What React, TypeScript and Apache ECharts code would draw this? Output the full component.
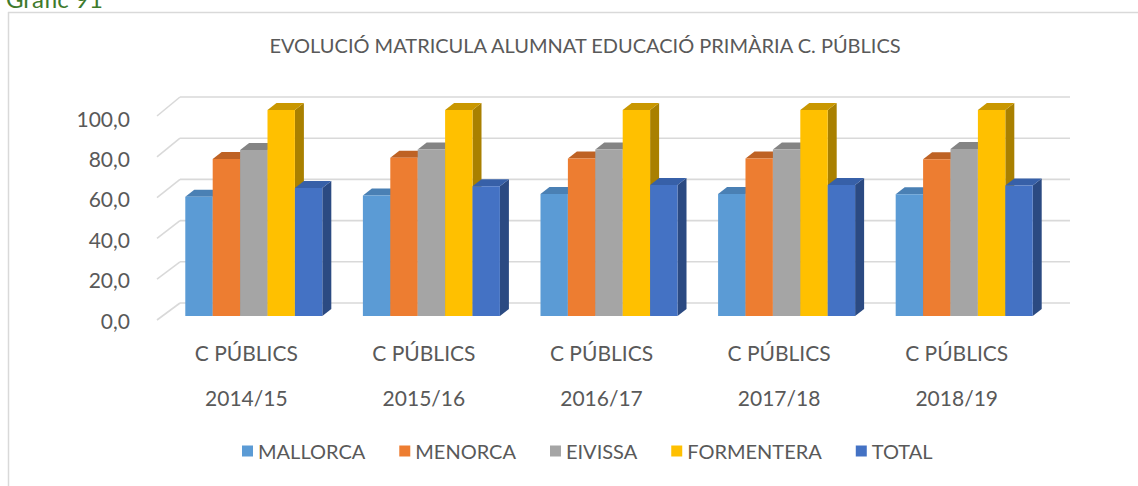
import React, { useEffect, useRef } from "react";
import * as echarts from "echarts";

const categoryPrefix = "C PÚBLICS";
const years = ["2014/15", "2015/16", "2016/17", "2017/18", "2018/19"];
const seriesNames = ["MALLORCA", "MENORCA", "EIVISSA", "FORMENTERA", "TOTAL"];
const mallorca = [57.9, 58.5, 59.2, 59.2, 59.1];
const menorca = [76.2, 76.8, 76.5, 76.5, 76.1];
const eivissa = [80.6, 80.8, 80.8, 80.8, 81.1];
const formentera = [100, 100, 100, 100, 100];
const total = [62.1, 63.0, 63.6, 63.6, 63.3];
const yTicks = [0, 20, 40, 60, 80, 100];

const frontColors = ["#5B9BD5", "#ED7D31", "#A5A5A5", "#FFC000", "#4472C4"];
const topColors = ["#4A80B4", "#BE6224", "#848484", "#C99700", "#3760A8"];
const sideColors = ["#3D6C99", "#A3531E", "#707070", "#A98000", "#2B4A82"];

const FONT = "Lato, 'Open Sans', sans-serif";
const DX = 9;
const DY = 7;

const fmt = (v: number) => v.toFixed(1).replace(".", ",");

export default function App() {
  const ref = useRef<HTMLDivElement>(null);
  useEffect(() => {
    if (!ref.current) return;
    const chart = echarts.init(ref.current, null, { renderer: "svg" });
    const allValues = [mallorca, menorca, eivissa, formentera, total];

    const barSeries = allValues.map((vals, s) => ({
      type: "custom",
      name: seriesNames[s],
      itemStyle: { color: frontColors[s] },
      data: vals.map((v, i) => [i, v]),
      z: 3,
      renderItem: (params: any, api: any) => {
        const ci = api.value(0);
        const v = api.value(1);
        const [cx, cy] = api.coord([ci, v]);
        const [, y0] = api.coord([ci, 0]);
        const band = api.size([1, 0])[0];
        const bw = band * 0.1543;
        const left = cx - 2.5 * bw + s * bw;
        const right = left + bw;
        return {
          type: "group",
          children: [
            {
              type: "polygon",
              shape: {
                points: [
                  [right, cy],
                  [right + DX, cy - DY],
                  [right + DX, y0 - DY],
                  [right, y0],
                ],
              },
              style: { fill: sideColors[s] },
            },
            {
              type: "polygon",
              shape: {
                points: [
                  [left, cy],
                  [left + DX, cy - DY],
                  [right + DX, cy - DY],
                  [right, cy],
                ],
              },
              style: { fill: topColors[s] },
            },
            {
              type: "rect",
              shape: { x: left, y: cy, width: bw, height: y0 - cy },
              style: { fill: frontColors[s] },
            },
          ],
        };
      },
    }));

    const wallSeries = {
      type: "custom",
      name: "wall",
      silent: true,
      z: 1,
      data: yTicks.map((t) => [0, t]),
      renderItem: (params: any, api: any) => {
        const cs = params.coordSys;
        const v = api.value(1);
        const y = api.coord([0, v])[1];
        const stroke = { stroke: "#D9D9D9", lineWidth: 1.6 };
        return {
          type: "group",
          children: [
            {
              type: "line",
              shape: { x1: cs.x - 8, y1: y + 4 + v * 0.02, x2: cs.x + 15, y2: y - 13 },
              style: stroke,
            },
            {
              type: "line",
              shape: { x1: cs.x + 15, y1: y - 13, x2: cs.x + cs.width + 17, y2: y - 13 },
              style: stroke,
            },
            {
              type: "text",
              x: cs.x - 35,
              y: y + 4 + v * 0.04,
              style: {
                text: fmt(v),
                fontFamily: FONT,
                fontSize: 21,
                fill: "#595959",
                align: "right",
                verticalAlign: "middle",
              },
            },
          ],
        };
      },
    };

    chart.setOption({
      animation: false,
      backgroundColor: "#FFFFFF",
      textStyle: { fontFamily: FONT },
      title: {
        text: "EVOLUCIÓ MATRICULA ALUMNAT EDUCACIÓ PRIMÀRIA C. PÚBLICS",
        left: 580,
        textAlign: "center",
        top: 30,
        textStyle: { fontFamily: FONT, fontSize: 20, fontWeight: "normal", color: "#595959" },
      },
      legend: {
        data: seriesNames,
        left: 237,
        top: 436,
        icon: "rect",
        itemWidth: 11,
        itemHeight: 11,
        itemGap: 34,
        textStyle: { fontFamily: FONT, fontSize: 20, color: "#595959" },
      },
      grid: { left: 165, right: 85, top: 110, bottom: 170 },
      xAxis: {
        type: "category",
        data: years.map((y) => categoryPrefix + "\n" + y),
        axisLine: { show: false },
        axisTick: { show: false },
        axisLabel: {
          margin: 14,
          lineHeight: 45,
          fontSize: 21,
          fontFamily: FONT,
          color: "#595959",
          padding: [0, 15, 0, 0],
        },
      },
      yAxis: {
        type: "value",
        min: 0,
        max: 100,
        interval: 20,
        axisLine: { show: false },
        axisTick: { show: false },
        splitLine: { show: false },
        axisLabel: { show: false },
      },
      graphic: [
        {
          type: "line",
          shape: { x1: 8.5, y1: 12, x2: 8.5, y2: 486 },
          style: { stroke: "#D9D9D9", lineWidth: 1.5 },
        },
        {
          type: "line",
          shape: { x1: 8, y1: 12.5, x2: 1138, y2: 12.5 },
          style: { stroke: "#D9D9D9", lineWidth: 1.5 },
        },
        {
          type: "text",
          x: 6,
          y: 10,
          style: {
            text: "Gràfic 91",
            fontFamily: FONT,
            fontSize: 24,
            fill: "#3E7A2C",
            verticalAlign: "bottom",
          },
        },
      ],
      series: [wallSeries, ...barSeries],
    });
    return () => chart.dispose();
  }, []);
  return (
    <div
      ref={ref}
      style={{ position: "fixed", left: 0, top: 0, width: 1138, height: 486 }}
    />
  );
}
